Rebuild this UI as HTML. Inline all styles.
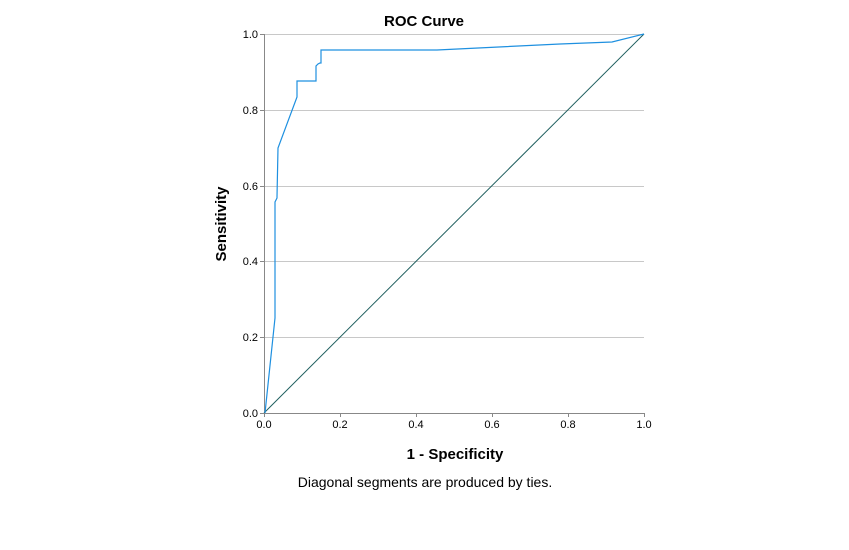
<!DOCTYPE html>
<html><head><style>
body{margin:0;background:#fff;}
svg text{font-family:"Liberation Sans",sans-serif;}
</style></head><body>
<svg width="849" height="545" viewBox="0 0 849 545">
<rect width="849" height="545" fill="#fff"/>
<g stroke="#c8c8c8" stroke-width="1">
<line x1="264" y1="34.5" x2="644" y2="34.5"/>
<line x1="264" y1="110.5" x2="644" y2="110.5"/>
<line x1="264" y1="186.5" x2="644" y2="186.5"/>
<line x1="264" y1="261.5" x2="644" y2="261.5"/>
<line x1="264" y1="337.5" x2="644" y2="337.5"/>
</g>
<line x1="264.5" y1="34" x2="264.5" y2="413" stroke="#888" stroke-width="1"/>
<line x1="264" y1="413.5" x2="644" y2="413.5" stroke="#888" stroke-width="1"/>
<g stroke="#888">
<line x1="260" y1="34.5" x2="264" y2="34.5"/><line x1="260" y1="110.5" x2="264" y2="110.5"/>
<line x1="260" y1="186.5" x2="264" y2="186.5"/><line x1="260" y1="261.5" x2="264" y2="261.5"/>
<line x1="260" y1="337.5" x2="264" y2="337.5"/><line x1="260" y1="413.5" x2="264" y2="413.5"/>
<line x1="264.5" y1="413" x2="264.5" y2="417"/><line x1="340.5" y1="413" x2="340.5" y2="417"/>
<line x1="416.5" y1="413" x2="416.5" y2="417"/><line x1="492.5" y1="413" x2="492.5" y2="417"/>
<line x1="568.5" y1="413" x2="568.5" y2="417"/><line x1="644.5" y1="413" x2="644.5" y2="417"/>
</g>
<line x1="264" y1="413" x2="644" y2="34" stroke="#1f5f5f" stroke-width="1"/>
<polyline fill="none" stroke="#1e90e0" stroke-width="1.2" points="265,413 275,318 275,202 277,198 277,197 278,148 297,97 297,81 316,81 316,66 318,64 320,63 321,63 321,50 437,50 560,44 612,42 644,34"/>
<g font-size="11" fill="#000" text-anchor="end">
<text x="258" y="38">1.0</text><text x="258" y="114">0.8</text><text x="258" y="190">0.6</text>
<text x="258" y="265">0.4</text><text x="258" y="341">0.2</text><text x="258" y="417">0.0</text>
</g>
<g font-size="11" fill="#000" text-anchor="middle">
<text x="264" y="428">0.0</text><text x="340" y="428">0.2</text><text x="416" y="428">0.4</text>
<text x="492" y="428">0.6</text><text x="568" y="428">0.8</text><text x="644" y="428">1.0</text>
</g>
<text x="424" y="26" font-size="15" font-weight="bold" text-anchor="middle">ROC Curve</text>
<text x="455" y="459" font-size="15" font-weight="bold" text-anchor="middle">1 - Specificity</text>
<text transform="translate(226,224) rotate(-90)" font-size="15" font-weight="bold" text-anchor="middle">Sensitivity</text>
<text x="425" y="487" font-size="14" text-anchor="middle">Diagonal segments are produced by ties.</text>
</svg>
</body></html>
